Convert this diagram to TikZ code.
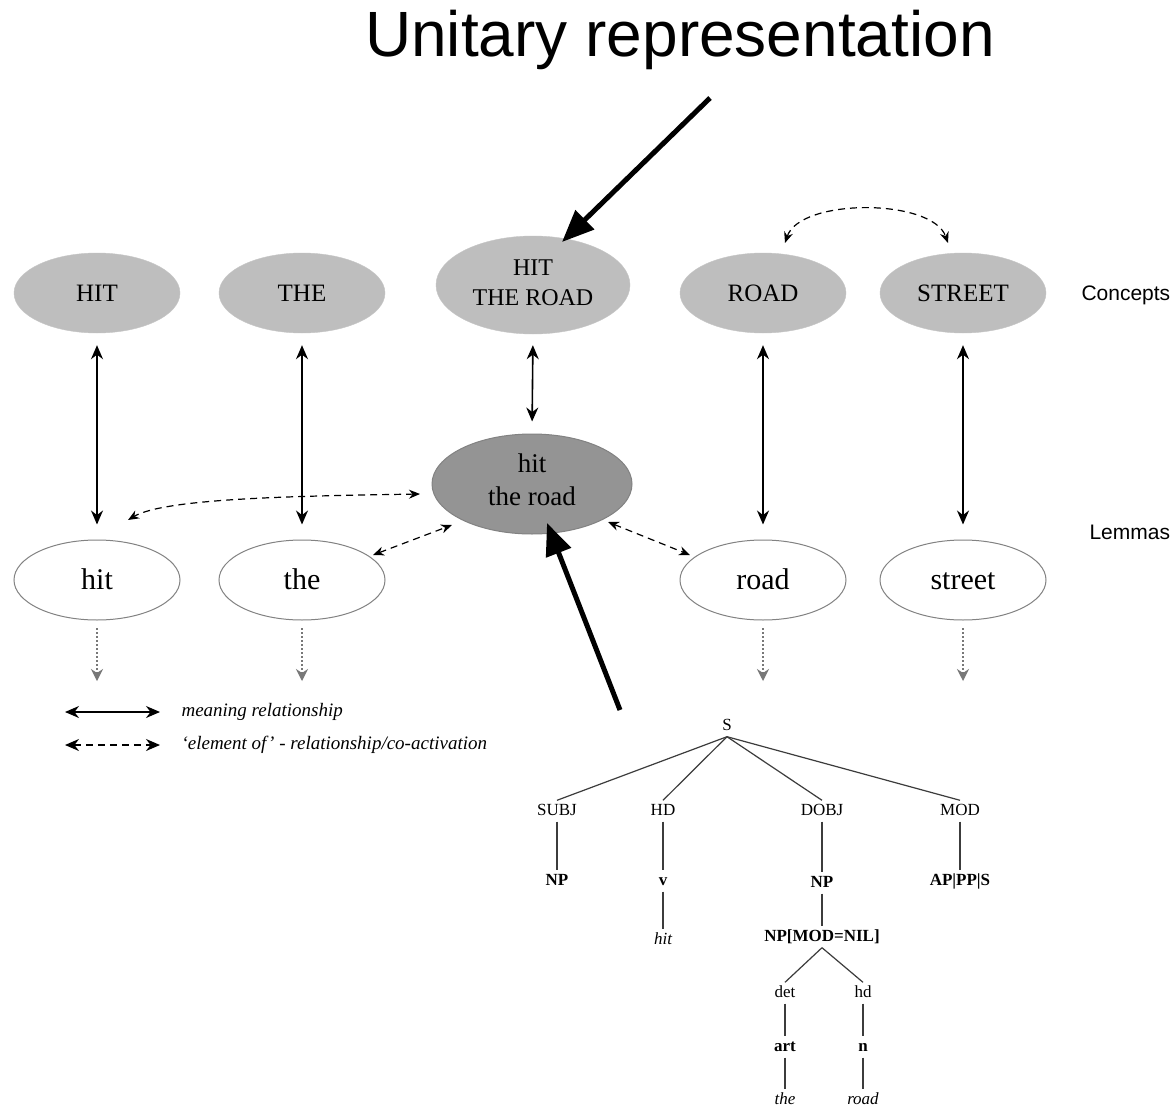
\documentclass[tikz,border=0pt]{standalone}
\usepackage{fontspec}
\setmainfont{Liberation Serif}
\newfontfamily\sansf{Liberation Sans}
\usetikzlibrary{shapes.geometric,arrows.meta,calc}
\definecolor{concgray}{RGB}{190,190,190}
\definecolor{darkgray2}{RGB}{148,148,148}
\definecolor{rimgray}{RGB}{130,130,130}
\definecolor{dotgray}{RGB}{120,120,120}
\definecolor{treeline}{RGB}{60,60,60}
\tikzset{
  concept/.style={ellipse, fill=concgray, draw=concgray!90!white, minimum width=166pt, minimum height=80pt, inner sep=0pt, font=\fontsize{25}{27}\selectfont, align=center},
  lemma/.style={ellipse, fill=white, draw=rimgray, line width=1pt, minimum width=166pt, minimum height=80pt, inner sep=0pt, font=\fontsize{30}{32}\selectfont, text height=21pt, text depth=3pt},
  unit/.style={ellipse, fill=darkgray2, draw=rimgray, line width=1pt, minimum width=200pt, minimum height=100pt, inner sep=0pt, font=\fontsize{27}{33}\selectfont, align=center},
  meaning/.style={line width=1.6pt, {Stealth[length=14pt,width=12pt]}-{Stealth[length=14pt,width=12pt]}},
  elemof/.style={line width=1.2pt, dash pattern=on 7pt off 5pt, {Stealth[length=11pt,width=9pt]}-{Stealth[length=11pt,width=9pt]}},
  down/.style={dotgray, line width=1.2pt, dash pattern=on 2pt off 2pt, -{Stealth[length=12pt,width=12pt,inset=4pt]}},
  bigarrow/.style={line width=5pt, -{Triangle[length=32pt,width=26pt]}},
  tnode/.style={font=\fontsize{17}{19}\selectfont, inner sep=3pt, text height=12pt, text depth=3pt},
  tlab/.style={tnode},
  tbold/.style={tnode, font=\fontsize{17}{19}\selectfont\bfseries},
  tit/.style={tnode, font=\fontsize{17}{19}\selectfont\itshape},
  tedge/.style={treeline, line width=1.2pt},
  side/.style={font=\sansf\fontsize{21}{23}\selectfont, anchor=west},
  legtext/.style={font=\fontsize{19}{21}\selectfont\itshape, anchor=west}
}
\begin{document}
\begin{tikzpicture}[x=1pt,y=-1pt]
\useasboundingbox (0,0) rectangle (1176,1108);
\fill[white] (0,0) rectangle (1176,1108);

% title
\node[font=\sansf\fontsize{64}{70}\selectfont] (title) at (680,40) {Unitary representation};

% concepts
\node[concept] (HIT) at (97,293) {HIT};
\node[concept] (THE) at (302,293) {THE};
\node[concept, minimum width=194pt, minimum height=98pt, font=\fontsize{24}{30}\selectfont] (HTR) at (533,285) {HIT\\THE ROAD\rule[-4pt]{0pt}{0pt}};
\node[concept] (ROAD) at (763,293) {ROAD};
\node[concept] (STREET) at (963,293) {STREET};
\node[side] (conc) at (1078,295) {Concepts};

% lemmas
\node[lemma] (hit) at (97,580) {hit};
\node[lemma] (the) at (302,580) {the};
\node[unit] (htrl) at (532,484) {hit\\the road\rule[-8pt]{0pt}{0pt}};
\node[lemma] (road) at (763,580) {road};
\node[lemma] (street) at (963,580) {street};
\node[side] (lem) at (1086,532) {Lemmas};

% meaning relationships
\draw[meaning, shorten <=12pt, shorten >=15pt] (HIT.south) -- (hit.north);
\draw[meaning, shorten <=12pt, shorten >=15pt] (THE.south) -- (the.north);
\draw[meaning, shorten <=11pt, shorten >=12pt] (HTR.south) -- (htrl.north);
\draw[meaning, shorten <=12pt, shorten >=15pt] (ROAD.south) -- (road.north);
\draw[meaning, shorten <=12pt, shorten >=15pt] (STREET.south) -- (street.north);

% element-of relationships
\draw[elemof] ($(htrl.center)+(-112,10)$) .. controls (300,496) and (165,498) .. ($(hit.center)+(31,-60)$);
\draw[elemof] ($(the.center)+(71,-25)$) -- ($(htrl.center)+(-80,41)$);
\draw[elemof] ($(htrl.center)+(76,38)$) -- ($(road.center)+(-73,-25)$);
\draw[elemof] ($(ROAD.center)+(22,-50)$) .. controls (800,198) and (932,198) .. ($(STREET.center)+(-15,-50)$);

% downward dotted arrows
\foreach \n in {hit,the,road,street}{
  \coordinate (\n-d1) at ($(\n.center)+(0,48)$);
  \coordinate (\n-d2) at ($(\n.center)+(0,101)$);
  \draw[down] (\n-d1) -- (\n-d2);
}

% big arrows
\coordinate (u1) at (710,98);
\draw[bigarrow] (u1) -- ($(HTR.center)+(29,-43)$);
\coordinate (u2) at (620,710);
\draw[bigarrow] (u2) -- ($(htrl.center)+(15,39)$);

% legend
\coordinate (l1a) at (65,712); \coordinate (l1b) at (160,712);
\coordinate (l2a) at (65,745); \coordinate (l2b) at (160,745);
\draw[meaning] (l1a) -- (l1b);
\draw[elemof, line width=1.6pt, {Stealth[length=14pt,width=12pt]}-{Stealth[length=14pt,width=12pt]}] (l2a) -- (l2b);
\node[legtext] (lt1) at (178,712) {meaning relationship};
\node[legtext] (lt2) at (178,745) {‘element of’ - relationship/co-activation};

% tree
\node[tlab] (S) at (727,726) {S};
\node[tlab] (SUBJ) at (557,811) {SUBJ};
\node[tlab] (HD) at (663,811) {HD};
\node[tlab] (DOBJ) at (822,811) {DOBJ};
\node[tlab] (MOD) at (960,811) {MOD};
\node[tbold] (NP1) at (557,881) {NP};
\node[tbold] (v) at (663,881) {v};
\node[tbold] (NP2) at (822,883) {NP};
\node[tbold] (AP) at (960,881) {AP|PP|S};
\node[tit] (hitw) at (663,940) {hit};
\node[tbold] (NPM) at (822,937) {NP[MOD=NIL]};
\node[tlab] (det) at (785,993) {det};
\node[tlab] (hd) at (863,993) {hd};
\node[tbold] (art) at (785,1047) {art};
\node[tbold] (n) at (863,1047) {n};
\node[tit] (thew) at (785,1100) {the};
\node[tit] (roadw) at (863,1100) {road};

\draw[tedge] (S.south) -- (SUBJ.north);
\draw[tedge] (S.south) -- (HD.north);
\draw[tedge] (S.south) -- (DOBJ.north);
\draw[tedge] (S.south) -- (MOD.north);
\draw[tedge] (SUBJ.south) -- (NP1.north);
\draw[tedge] (HD.south) -- (v.north);
\draw[tedge] (DOBJ.south) -- (NP2.north);
\draw[tedge] (MOD.south) -- (AP.north);
\draw[tedge] (v.south) -- (hitw.north);
\draw[tedge] (NP2.south) -- (NPM.north);
\draw[tedge] (NPM.south) -- (det.north);
\draw[tedge] (NPM.south) -- (hd.north);
\draw[tedge] (det.south) -- (art.north);
\draw[tedge] (hd.south) -- (n.north);
\draw[tedge] (art.south) -- (thew.north);
\draw[tedge] (n.south) -- (roadw.north);
\end{tikzpicture}
\end{document}
